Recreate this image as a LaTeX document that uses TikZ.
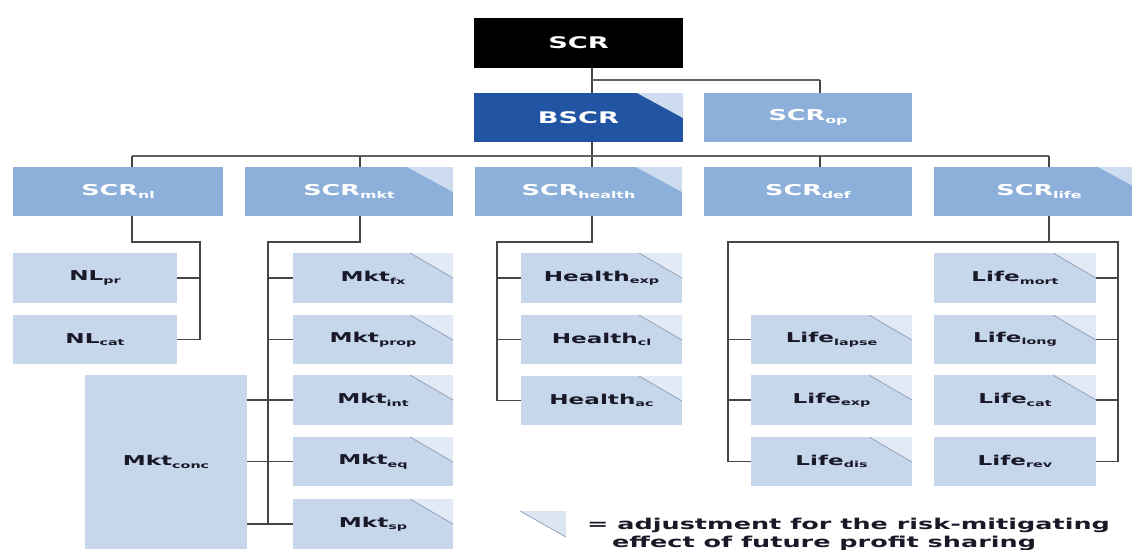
\documentclass[tikz,border=0pt]{standalone}
\usepackage{fontspec}
\setmainfont{DejaVu Sans}
\newfontfamily\wf[FakeStretch=1.7]{DejaVu Sans}
\usepackage{graphicx}
\definecolor{darkb}{RGB}{33,84,162}
\definecolor{midb}{RGB}{141,176,219}
\definecolor{leafb}{RGB}{198,214,235}
\definecolor{cornA}{RGB}{206,220,239}
\definecolor{cornL}{RGB}{226,234,245}
\definecolor{cornLine}{RGB}{150,162,185}
\definecolor{lineC}{RGB}{70,70,70}
\definecolor{txtD}{RGB}{25,25,40}
\newcommand\sub[1]{\raisebox{-0.18em}{\scalebox{0.62}{#1}}}
\begin{document}
\begin{tikzpicture}[x=1pt,y=-1pt,
  box/.style={inner sep=0pt, outer sep=0pt, anchor=north west},
  scrbox/.style={box, fill=black, text=white, font=\wf\bfseries\fontsize{16}{19}\selectfont},
  bscrbox/.style={box, fill=darkb, text=white, font=\wf\bfseries\fontsize{16}{19}\selectfont},
  midbox/.style={box, fill=midb, text=white, font=\wf\bfseries\fontsize{15}{18}\selectfont},
  leafbox/.style={box, fill=leafb, text=txtD, font=\wf\bfseries\fontsize{13.6}{16}\selectfont},
  midcorner/.style={path picture={\fill[cornA] (path picture bounding box.north east) -- ++(-46,0) -- ++(46,25) -- cycle;}},
  leafcorner/.style={path picture={\fill[cornL] (path picture bounding box.north east) -- ++(-43,0) -- ++(43,25) -- cycle;
     \draw[cornLine, line width=0.8pt] (path picture bounding box.north east) ++(-43,0) -- ++(43,25);}},
  conn/.style={draw=lineC, line width=1.5pt},
  bar/.style={draw=lineC!85, line width=1.1pt},
  legtext/.style={font=\wf\bfseries\fontsize{15}{19}\selectfont, text=txtD, inner sep=0pt, anchor=base west}
]
\useasboundingbox (0,0) rectangle (1132,549);
\fill[white] (0,0) rectangle (1132,549);
\clip (0,0) rectangle (1132,549);

% top levels
\node[scrbox, minimum width=209pt, minimum height=50pt] (scr) at (474,18) {SCR};
\node[bscrbox, midcorner, minimum width=209pt, minimum height=49pt] (bscr) at (474,93) {BSCR};
\node[midbox, minimum width=208pt, minimum height=49pt] (scrop) at (704,93) {SCR\sub{op}};

% second level
\node[midbox, minimum width=210pt, minimum height=49pt] (scrnl) at (13,167) {SCR\sub{nl}};
\node[midbox, midcorner, minimum width=208pt, minimum height=49pt] (scrmkt) at (245,167) {SCR\sub{mkt}};
\node[midbox, midcorner, minimum width=207pt, minimum height=49pt] (scrhealth) at (475,167) {SCR\sub{health}};
\node[midbox, minimum width=208pt, minimum height=49pt] (scrdef) at (704,167) {SCR\sub{def}};
\node[midbox, midcorner, minimum width=210pt, minimum height=49pt] (scrlife) at (934,167) {SCR\sub{life}};

% non-life
\node[leafbox, minimum width=164pt, minimum height=50pt] (nlpr) at (13,253) {NL\sub{pr}};
\node[leafbox, minimum width=164pt, minimum height=49pt] (nlcat) at (13,315) {NL\sub{cat}};

% market
\node[leafbox, minimum width=162pt, minimum height=174pt] (mktconc) at (85,375) {Mkt\sub{conc}};
\node[leafbox, leafcorner, minimum width=160pt, minimum height=50pt] (mktfx) at (293,253) {Mkt\sub{fx}};
\node[leafbox, leafcorner, minimum width=160pt, minimum height=49pt] (mktprop) at (293,315) {Mkt\sub{prop}};
\node[leafbox, leafcorner, minimum width=160pt, minimum height=50pt] (mktint) at (293,375) {Mkt\sub{int}};
\node[leafbox, leafcorner, minimum width=160pt, minimum height=49pt] (mkteq) at (293,437) {Mkt\sub{eq}};
\node[leafbox, leafcorner, minimum width=160pt, minimum height=50pt] (mktsp) at (293,499) {Mkt\sub{sp}};

% health
\node[leafbox, leafcorner, minimum width=161pt, minimum height=50pt] (healthexp) at (521,253) {Health\sub{exp}};
\node[leafbox, leafcorner, minimum width=161pt, minimum height=49pt] (healthcl) at (521,315) {Health\sub{cl}};
\node[leafbox, leafcorner, minimum width=161pt, minimum height=49pt] (healthac) at (521,376) {Health\sub{ac}};

% life
\node[leafbox, leafcorner, minimum width=161pt, minimum height=49pt] (lifelapse) at (751,315) {Life\sub{lapse}};
\node[leafbox, leafcorner, minimum width=161pt, minimum height=50pt] (lifeexp) at (751,375) {Life\sub{exp}};
\node[leafbox, leafcorner, minimum width=161pt, minimum height=49pt] (lifedis) at (751,437) {Life\sub{dis}};
\node[leafbox, leafcorner, minimum width=162pt, minimum height=50pt] (lifemort) at (934,253) {Life\sub{mort}};
\node[leafbox, leafcorner, minimum width=162pt, minimum height=49pt] (lifelong) at (934,315) {Life\sub{long}};
\node[leafbox, leafcorner, minimum width=162pt, minimum height=50pt] (lifecat) at (934,375) {Life\sub{cat}};
\node[leafbox, minimum width=162pt, minimum height=49pt] (liferev) at (934,437) {Life\sub{rev}};

% helper coordinates
\coordinate (xa) at (592,0);
\coordinate (xb) at (820,0);
\coordinate (xnl) at (132,0);
\coordinate (xmk) at (360,0);
\coordinate (xlf) at (1049,0);
\coordinate (ya) at (0,80);
\coordinate (yb) at (0,156);
\coordinate (yc) at (0,242);
\coordinate (bnl) at (200,0);
\coordinate (bmk) at (268,0);
\coordinate (bhe) at (497,0);
\coordinate (bll) at (728,0);
\coordinate (blr) at (1118,0);

% connectors top
\draw[conn] (scr.south -| xa) -- (bscr.north -| xa);
\draw[bar] (xa |- ya) -- (xb |- ya);
\draw[conn] (xb |- ya) -- (scrop.north -| xb);
\draw[conn] (bscr.south -| xa) -- (scrhealth.north -| xa);
\draw[bar] (xnl |- yb) -- (xlf |- yb);
\draw[conn] (scrnl.north -| xnl) -- (xnl |- yb);
\draw[conn] (scrmkt.north -| xmk) -- (xmk |- yb);
\draw[conn] (scrdef.north -| xb) -- (xb |- yb);
\draw[conn] (scrlife.north -| xlf) -- (xlf |- yb);

% non-life
\draw[conn] (scrnl.south -| xnl) |- (bnl |- yc) -- (bnl |- nlcat.east) -- (nlcat.east);
\draw[conn] (nlpr.east) -- (nlpr.east -| bnl);

% market
\draw[conn] (scrmkt.south -| xmk) |- (bmk |- yc) -- (bmk |- mktsp.west) -- (mktsp.west);
\foreach \n in {mktfx,mktprop,mktint,mkteq}
  \draw[conn] (\n.west -| bmk) -- (\n.west);
\foreach \n in {mktint,mkteq,mktsp}
  \draw[conn] (mktconc.east |- \n.west) -- (\n.west -| bmk);

% health
\draw[conn] (scrhealth.south -| xa) |- (bhe |- yc) -- (bhe |- healthac.west) -- (healthac.west);
\foreach \n in {healthexp,healthcl}
  \draw[conn] (\n.west -| bhe) -- (\n.west);

% life
\draw[conn] (scrlife.south -| xlf) -- (xlf |- yc);
\draw[conn] (lifedis.west) -- (lifedis.west -| bll) |- (blr |- yc) -- (blr |- liferev.east) -- (liferev.east);
\foreach \n in {lifelapse,lifeexp}
  \draw[conn] (\n.west -| bll) -- (\n.west);
\foreach \n in {lifemort,lifelong,lifecat}
  \draw[conn] (\n.east) -- (\n.east -| blr);

% legend
\fill[cornL!80!leafb] (520,511) -- (566,511) -- (566,537) -- cycle;
\draw[cornLine, line width=0.8pt] (520,511) -- (566,537);
\node[legtext] (leg1) at (587,529) {= adjustment for the risk-mitigating};
\node[legtext] (leg2) at (612,547) {effect of future profit sharing};
\end{tikzpicture}
\end{document}
